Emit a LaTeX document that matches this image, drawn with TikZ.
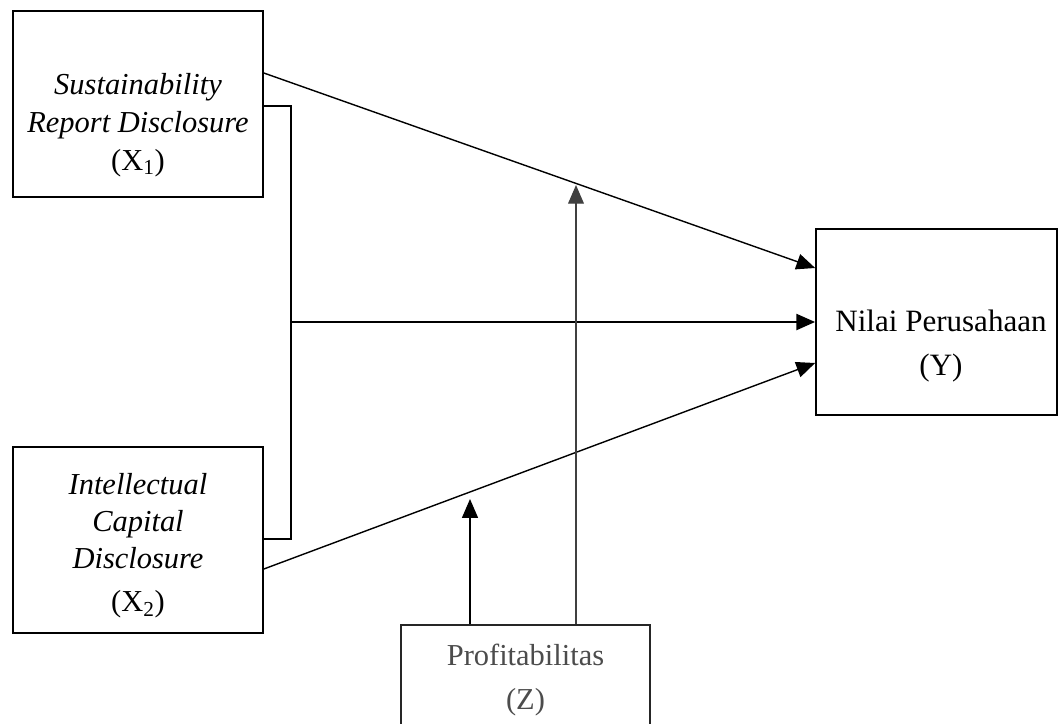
\documentclass[tikz,border=0pt]{standalone}
\usepackage{fontspec}
\setmainfont{Liberation Serif}
\usetikzlibrary{arrows.meta}
\tikzset{
  varbox/.style={draw, line width=1.4pt, inner sep=0pt},
  vartext/.style={align=center, font=\fontsize{26}{32.4}\selectfont},
  link/.style={line width=1.2pt},
  bracket/.style={line width=2.2pt},
  tip/.style={-{Triangle[length=16pt,width=13.5pt]}}
}
\begin{document}
\begin{tikzpicture}[x=0.03cm, y=-0.03cm]
        \clip (0,0) rectangle (1059,723);
        % variabel independen
        \node[varbox, minimum width=7.5cm, minimum height=5.58cm] (sr) at (138,104) {};
        \node[vartext] (srtext) at (138,125) {\textit{Sustainability}\\\textit{Report Disclosure}\\(X\textsubscript{1})};
        \node[varbox, minimum width=7.5cm, minimum height=5.58cm] (ic) at (138,540) {};
        \node[vartext, font=\fontsize{26}{31.5}\selectfont] (ictext) at (138,546) {\textit{Intellectual}\\\textit{Capital}\\\textit{Disclosure}\\[0.18cm](X\textsubscript{2})};
        % variabel dependen
        \node[varbox, minimum width=7.23cm, minimum height=5.58cm] (yn) at (936.5,322) {};
        \node[vartext, font=\fontsize{26.5}{37.5}\selectfont] (yntext) at (941,346) {Nilai Perusahaan\\(Y)};
        % variabel moderasi
        \node[varbox, vartext, font=\fontsize{26}{37.5}\selectfont, draw=black!85, text=black!70,
              minimum width=7.47cm, minimum height=3.3cm] (pr) at (525.5,680) {Profitabilitas\\(Z)};
        % hubungan
        \coordinate (join) at (291,322);
        \coordinate (hitup) at (576,185);
        \coordinate (hitlow) at (470,499);
        \draw[link, tip] (sr.east |- 0,73) -- (yn.west |- 0,268);
        \draw[bracket] (sr.east |- 0,106) -| (join) |- (ic.east |- 0,539);
        \draw[bracket, tip] (join) -- (yn.west |- join);
        \draw[link, tip] (ic.east |- 0,569) -- (yn.west |- 0,363);
        \draw[link, tip, black!75] (pr.north -| hitup) -- (hitup);
        \draw[link, tip] (pr.north -| hitlow) -- (hitlow);
    \end{tikzpicture}
\end{document}
